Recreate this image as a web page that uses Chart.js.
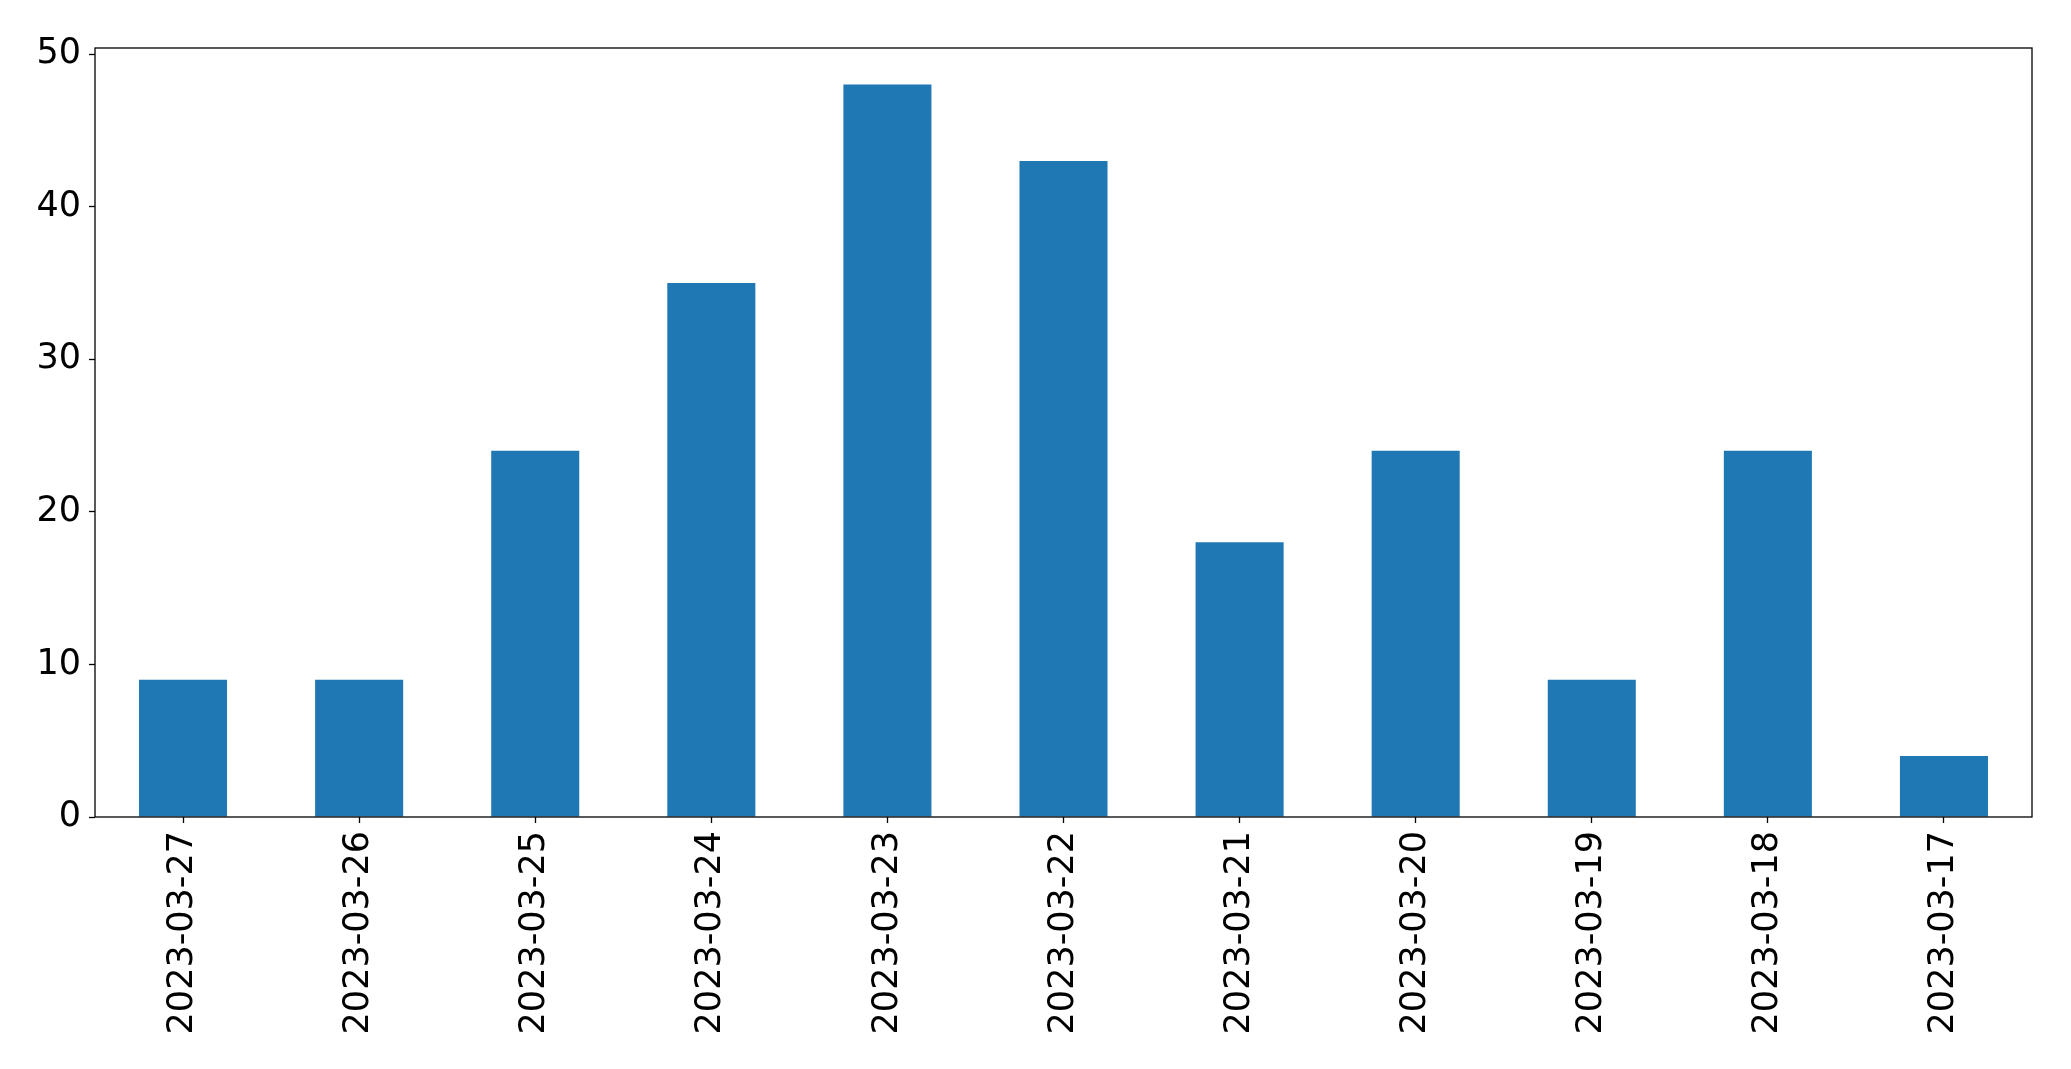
<!DOCTYPE html>
<html>
<head>
<meta charset="utf-8">
<script src="https://cdn.jsdelivr.net/npm/chart.js@4/dist/chart.umd.min.js"></script>
<style>
  html, body { margin: 0; padding: 0; background: #fff; }
  #wrap { width: 2071px; height: 1069px; }
</style>
</head>
<body>
<div id="wrap"><canvas id="bar-chart"></canvas></div>
<script>
const DATES = [
  "2023-03-27", "2023-03-26", "2023-03-25", "2023-03-24", "2023-03-23",
  "2023-03-22", "2023-03-21", "2023-03-20", "2023-03-19", "2023-03-18",
  "2023-03-17",
];
const COUNTS = [9, 9, 24, 35, 48, 43, 18, 24, 9, 24, 4];
const Y_TICKS = [0, 10, 20, 30, 40, 50];

const TICK_FONT = { family: "DejaVu Sans", size: 35 };

// draws the full box around the plot, like matplotlib's spines
const frame = {
  id: "frame",
  afterDatasetsDraw(chart) {
    const { ctx, chartArea: a } = chart;
    ctx.save();
    ctx.strokeStyle = "#000";
    ctx.lineWidth = 1.3;
    ctx.strokeRect(a.left, a.top, a.right - a.left, a.bottom - a.top);
    ctx.restore();
  },
};

const ctx = document.getElementById("bar-chart").getContext("2d");
new Chart(ctx, {
  type: "bar",
  data: {
    labels: DATES,
    datasets: [{
      data: COUNTS,
      backgroundColor: "#1f77b4",
      borderWidth: 0,
      barPercentage: 0.5,
      categoryPercentage: 1.0,
    }],
  },
  options: {
    responsive: true,
    maintainAspectRatio: false,
    animation: false,
    layout: { padding: { top: 48, right: 39, left: 0, bottom: 0 } },
    plugins: { legend: { display: false }, tooltip: { enabled: false } },
    scales: {
      x: {
        offset: true,
        afterFit(scale) { scale.height = 252; },
        grid: { display: true, drawOnChartArea: false, tickLength: 6, tickColor: "#000", tickWidth: 1.3, offset: false },
        border: { display: false },
        ticks: { color: "#000", font: TICK_FONT, minRotation: 90, maxRotation: 90, padding: 8, autoSkip: false },
      },
      y: {
        min: 0,
        max: 50.4,
        afterFit(scale) { scale.width = 95; },
        afterBuildTicks(scale) {
          scale.ticks = Y_TICKS.map(v => ({ value: v }));
        },
        grid: { display: true, drawOnChartArea: false, tickLength: 6, tickColor: "#000", tickWidth: 1.3 },
        border: { display: false },
        ticks: { color: "#000", font: TICK_FONT, padding: 8 },
      },
    },
  },
  plugins: [frame],
});
</script>
</body>
</html>
